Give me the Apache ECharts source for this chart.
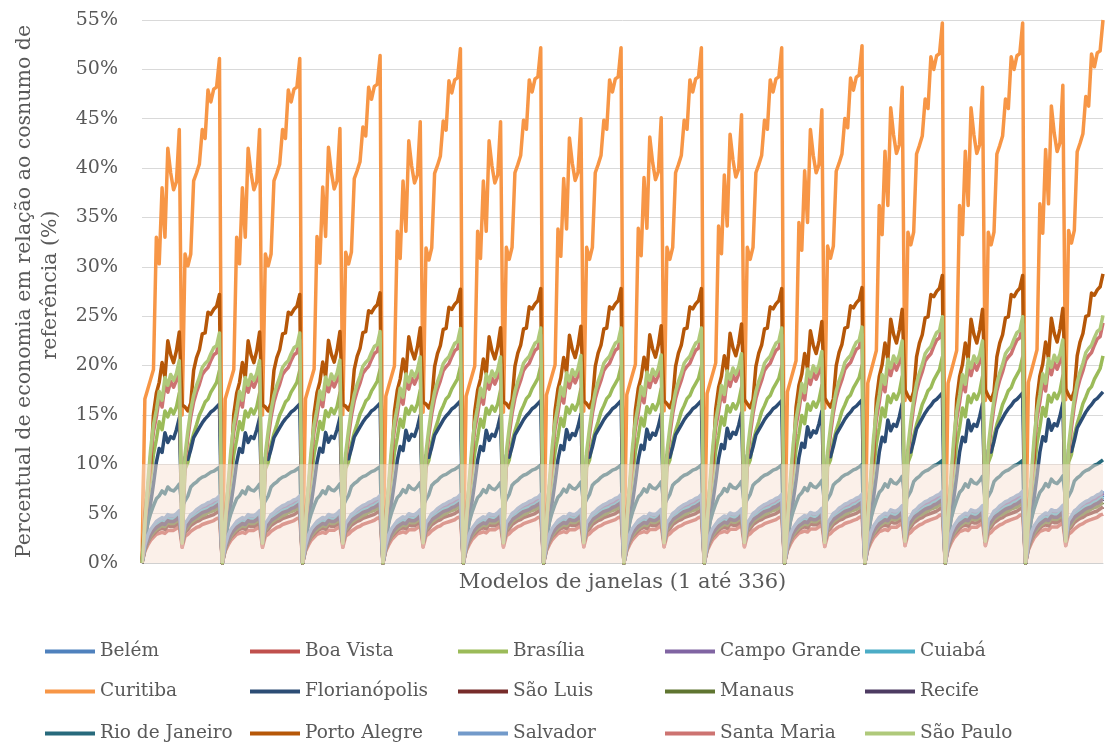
<!DOCTYPE html>
<html>
<head>
<meta charset="utf-8">
<script src="https://cdn.jsdelivr.net/npm/echarts@6/dist/echarts.min.js"></script>
<style>html,body{margin:0;padding:0;background:#fff}#chart{width:1105px;height:745px}</style>
</head>
<body>
<div id="chart"></div>
<script>
const belem         = [0,1.6,2.5,3.1,3.5,3.9,4.1,4.3,4.2,4.6,4.5,4.5,4.7,5,2.2,3.7,4.1,4.6,4.8,5,5.2,5.4,5.5,5.7,5.8,6,6.1,6.4];
const boaVista      = [0,1.2,1.8,2.3,2.6,2.9,3,3.1,3,3.3,3.3,3.3,3.5,3.7,1.6,2.7,2.9,3.2,3.4,3.6,3.7,3.9,4,4.1,4.2,4.3,4.5,4.6];
const brasilia      = [0,3,6,8.5,11,12.5,14.3,13.5,15.4,14.8,15.6,15.1,15.8,17.2,1.8,9.5,10.2,12,13.1,14,15,15.6,16.3,16.6,17.3,17.8,18.3,19.5];
const campoGrande   = [0,1.7,2.7,3.3,3.7,4.1,4.3,4.5,4.4,4.8,4.7,4.7,4.9,5.2,2.1,3.9,4.3,4.8,5,5.2,5.4,5.6,5.7,5.9,6,6.2,6.3,6.6];
const cuiaba        = [0,1.6,2.4,3,3.4,3.8,4,4.2,4.1,4.5,4.4,4.4,4.6,4.9,2.2,3.6,4,4.5,4.7,4.9,5.1,5.3,5.4,5.5,5.7,5.8,6,6.2];
const curitiba      = [0,16.6,17.6,18.6,19.6,33,30.3,38,33,42,39.5,37.8,38.6,43.9,15,31.3,30.1,31.3,38.7,39.5,40.4,43.9,43,47.9,46.7,48,48.2,51.1];
const florianopolis = [0,2,4,6,8,10.2,11.6,11.2,13.2,12.2,12.8,12.6,13.5,14.7,3.5,10.7,10.5,11.5,12.7,13.2,13.7,14.2,14.6,14.9,15.3,15.5,15.8,16.1];
const saoLuis       = [0,1.3,2.1,2.6,2.9,3.2,3.4,3.5,3.4,3.8,3.7,3.7,3.9,4.1,1.9,3.1,3.4,3.8,4,4.2,4.3,4.5,4.6,4.7,4.8,4.9,5.1,5.3];
const manaus        = [0,1.4,2.2,2.7,3.1,3.4,3.6,3.8,3.7,4.1,4,4,4.2,4.4,2,3.3,3.7,4.1,4.3,4.5,4.6,4.8,4.9,5.1,5.2,5.3,5.5,5.7];
const recife        = [0,1.5,2.3,2.9,3.3,3.6,3.8,4,3.9,4.3,4.2,4.2,4.4,4.7,2.1,3.5,3.9,4.3,4.5,4.7,4.9,5.1,5.2,5.3,5.5,5.6,5.8,6];
const rioDeJaneiro  = [0,2.7,4,5,5.8,6.5,6.8,7.3,7,7.7,7.4,7.3,7.6,8,5.7,6.3,6.8,7.7,8,8.2,8.5,8.7,8.8,9,9.2,9.3,9.5,9.7];
const portoAlegre   = [0,5,7.5,9.7,15.1,17.2,18.3,20.3,18.8,22.5,21.1,20.3,21.5,23.4,16,15.8,15.4,16.2,19.5,20.8,21.6,23.2,23.3,25.4,25.2,25.7,26,27.2];
const salvador      = [0,1.8,2.8,3.4,3.8,4.2,4.4,4.6,4.5,4.9,4.8,4.8,5,5.3,2,4,4.4,4.9,5.1,5.4,5.6,5.8,5.9,6.1,6.2,6.4,6.5,6.8];
const santaMaria    = [0,3.6,7.4,10.8,13.3,14.8,16.7,15.8,18,17.3,18.4,17.8,18.5,19.8,1.6,10.3,12.7,14.8,16.3,17.3,18.1,19.1,19.5,19.8,20.5,21.1,21.3,22.6];
const saoPaulo      = [0,4,8,11.5,14,15.5,17.4,16.5,18.8,18,19.1,18.5,19.2,20.5,2,11,13.4,15.5,17,18,18.8,19.8,20.2,20.5,21.2,21.8,22,23.3];

// Curitiba peaks in each of the 12 cycles (first half, second half)
const firstPeaks  = [44, 44, 44.1, 44.8, 44.8, 45.1, 45.2, 45.5, 46, 48.3, 48.3, 48.5];
const secondPeaks = [51.1, 51.1, 51.4, 52.1, 52.2, 52.2, 52.2, 52.2, 52.4, 54.7, 54.7, 55];

const names  = ['Belém','Boa Vista','Brasília','Campo Grande','Cuiabá','Curitiba','Florianópolis','São Luis','Manaus','Recife','Rio de Janeiro','Porto Alegre','Salvador','Santa Maria','São Paulo'];
const profiles = [belem,boaVista,brasilia,campoGrande,cuiaba,curitiba,florianopolis,saoLuis,manaus,recife,rioDeJaneiro,portoAlegre,salvador,santaMaria,saoPaulo];
const colors = ['#4F81BD','#C0504D','#9BBB59','#8064A2','#4BACC6','#F79646','#2C4D75','#772C2A','#5F7530','#4D3B62','#276A7C','#B65708','#729ACA','#CD7371','#AFC97A'];
const yTicks = [0,5,10,15,20,25,30,35,40,45,50,55];

const categories = [];
for (let i = 1; i <= 336; i++) categories.push(String(i));

function build(profile) {
  const out = [];
  for (let c = 0; c < firstPeaks.length; c++) {
    const a = firstPeaks[c] / firstPeaks[0];
    const b = secondPeaks[c] / secondPeaks[0];
    for (let i = 0; i < profile.length; i++) {
      const f = i === 0 ? 1 : (i <= 14 ? a : b);
      out.push(+(profile[i] * f).toFixed(2));
    }
  }
  return out;
}

const FONT = '"DejaVu Serif", serif';
const series = names.map((n, k) => ({
  name: n, type: 'line', data: build(profiles[k]),
  showSymbol: false, symbol: 'none', smooth: false,
  lineStyle: { width: 3.5, color: colors[k], join: 'round' },
  itemStyle: { color: colors[k] },
  emphasis: { disabled: true }, silent: true, z: 2
}));
series.push({
  name: 'band', type: 'line', data: categories.map(() => null), z: 10, silent: true,
  showSymbol: false, symbol: 'none', lineStyle: { width: 0 },
  markArea: { silent: true, z: 10, itemStyle: { color: 'rgba(247,226,212,0.5)' }, data: [[{ yAxis: 0 }, { yAxis: 10 }]] }
});

const colX = [45, 250, 458, 665, 865];
const rowY = [642, 682, 724];
const legends = names.map((n, k) => ({
  data: [n], left: colX[k % 5], top: rowY[Math.floor(k / 5)], padding: 0,
  icon: 'rect', itemWidth: 50, itemHeight: 4, itemGap: 0, selectedMode: false,
  textStyle: { fontFamily: FONT, fontSize: 18.5, color: '#595959' }
}));

const chart = echarts.init(document.getElementById('chart'), null, { renderer: 'canvas' });
chart.setOption({
  animation: false,
  color: colors,
  grid: { left: 142, right: 2, top: 20, bottom: 182, containLabel: false },
  legend: legends,
  xAxis: {
    type: 'category', data: categories, boundaryGap: false,
    axisLine: { show: true, lineStyle: { color: '#d0d0d0', width: 1 } },
    axisTick: { show: false }, axisLabel: { show: false }, splitLine: { show: false },
    name: 'Modelos de janelas (1 até 336)', nameLocation: 'middle', nameGap: 9,
    nameTextStyle: { fontFamily: FONT, fontSize: 21, color: '#595959', verticalAlign: 'top' }
  },
  yAxis: {
    type: 'value', min: yTicks[0], max: yTicks[yTicks.length - 1], interval: 5,
    axisLine: { show: false }, axisTick: { show: false },
    axisLabel: { formatter: v => v + '%', fontFamily: FONT, fontSize: 19, color: '#595959', margin: 24 },
    splitLine: { lineStyle: { color: '#d9d9d9', width: 1 } },
    name: 'Percentual de economia em relação ao cosnumo de\n\u00a0\u00a0referência (%)',
    nameLocation: 'middle', nameGap: 78, nameRotate: 90,
    nameTextStyle: { fontFamily: FONT, fontSize: 20.5, color: '#595959', lineHeight: 26, align: 'center' }
  },
  series: series
});
</script>
</body>
</html>
